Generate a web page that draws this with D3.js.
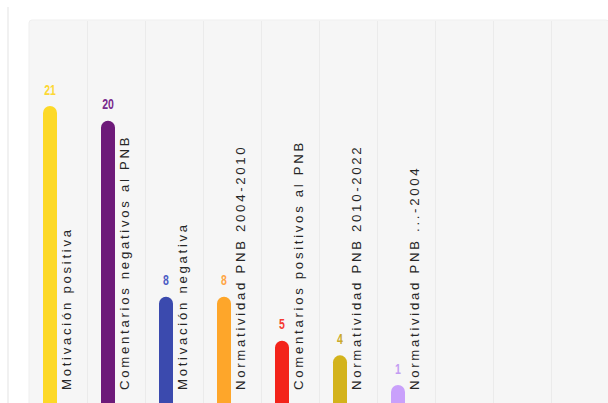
<!DOCTYPE html>
<html>
<head>
<meta charset="utf-8">
<script src="https://cdn.jsdelivr.net/npm/d3@7"></script>
<style>
  html, body { margin: 0; padding: 0; background: #ffffff; }
  svg { display: block; }
</style>
</head>
<body>
<svg id="chart" width="608" height="403"></svg>
<script>
const categories = [
  "Motivación positiva",
  "Comentarios negativos al PNB",
  "Motivación negativa",
  "Normatividad PNB 2004-2010",
  "Comentarios positivos al PNB",
  "Normatividad PNB 2010-2022",
  "Normatividad PNB ...-2004"
];
const values = [21, 20, 8, 8, 5, 4, 1];
const barColors = ["#fdd927", "#6d1a79", "#3b4aae", "#fea62a", "#f3231a", "#d3b31c", "#c9a0fb"];
const labelColors = ["#fdd835", "#7a2a8c", "#4b5bc4", "#ffa545", "#f53b32", "#caa92a", "#c39cf2"];
const slotCount = 10;

const svg = d3.select("#chart");
const W = 608, H = 403;
const plot = { left: 29, top: 20, right: 609, bottom: 430 };

// vertical rule on far left
svg.append("line")
  .attr("x1", 8).attr("x2", 8).attr("y1", 7).attr("y2", H)
  .attr("stroke", "#ececec").attr("stroke-width", 1.5);

// plot background
svg.append("rect")
  .attr("x", plot.left).attr("y", plot.top)
  .attr("width", plot.right - plot.left).attr("height", plot.bottom - plot.top)
  .attr("rx", 3)
  .attr("fill", "#f6f6f6")
  .attr("stroke", "#efefef").attr("stroke-width", 1);

const x = d3.scaleBand()
  .domain(d3.range(slotCount))
  .range([plot.left, plot.right])
  .paddingInner(0).paddingOuter(0);

const y = d3.scaleLinear().domain([0, 27]).range([414, 18]);

// column separators
svg.append("g").selectAll("line")
  .data(d3.range(1, slotCount))
  .join("line")
  .attr("x1", d => Math.round(x(d)) + 0.5)
  .attr("x2", d => Math.round(x(d)) + 0.5)
  .attr("y1", plot.top + 1).attr("y2", H)
  .attr("stroke", "#ebebeb").attr("stroke-width", 1);

const barW = 14;
const minH = 29;
const data = categories.map((c, i) => ({ c, v: values[i], i }));

const barTop = d => Math.min(y(d.v), y(0) - minH);
const barCx = d => x(d.i) + 21;

// bars (rounded top)
svg.append("g").selectAll("rect")
  .data(data)
  .join("rect")
  .attr("x", d => barCx(d) - barW / 2)
  .attr("y", d => barTop(d))
  .attr("width", barW)
  .attr("height", d => y(0) - barTop(d) + 10)
  .attr("rx", barW / 2)
  .attr("fill", d => barColors[d.i]);

// value labels
svg.append("g").selectAll("text")
  .data(data)
  .join("text")
  .attr("transform", d => `translate(${barCx(d)},${barTop(d) - 11.5}) scale(0.75,1)`)
  .attr("text-anchor", "middle")
  .attr("font-family", "'Liberation Sans Narrow', 'Liberation Sans', Arial, sans-serif")
  .attr("font-weight", "600")
  .attr("font-size", 14)
  .attr("fill", d => labelColors[d.i])
  .text(d => d.v);

// category labels (rotated)
svg.append("g").selectAll("text")
  .data(data)
  .join("text")
  .attr("transform", d => `translate(${x(d.i) + 42},390) rotate(-90)`)
  .attr("text-anchor", "start")
  .attr("font-family", "'Liberation Sans', Arial, sans-serif")
  .attr("font-size", 13.2)
  .attr("letter-spacing", "2.7px")
  .attr("fill", "#262626")
  .text(d => d.c);
</script>
</body>
</html>
